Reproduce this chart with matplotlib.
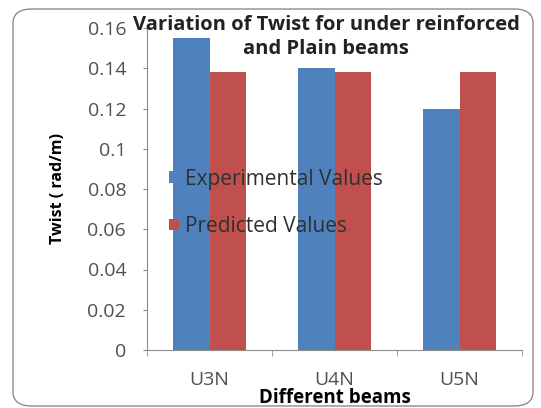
import matplotlib.pyplot as plt
import numpy as np
from matplotlib.patches import FancyBboxPatch

plt.rcParams['font.family'] = ['Open Sans', 'DejaVu Sans']

beams = ['U3N', 'U4N', 'U5N']
experimental = [0.155, 0.14, 0.12]
predicted = [0.138, 0.138, 0.138]
yticks = [0, 0.02, 0.04, 0.06, 0.08, 0.1, 0.12, 0.14, 0.16]
ytick_labels = ['0', '0.02', '0.04', '0.06', '0.08', '0.1', '0.12', '0.14', '0.16']

W, H = 541, 408
fig = plt.figure(figsize=(W / 100, H / 100), dpi=100)

# rounded chart-area border
frame = FancyBboxPatch((13 / W, 2 / H), 520 / W, 397 / H,
                       boxstyle='round,pad=0,rounding_size=0.035',
                       transform=fig.transFigure, fill=False,
                       edgecolor='#8c8c8c', linewidth=1.0)
fig.patches.append(frame)

ax = fig.add_axes([147 / W, (H - 350) / H, (522 - 147) / W, (350 - 28) / H])

x = np.arange(len(beams))
bw = 0.29
ax.bar(x - bw / 2, experimental, bw, color='#4f81bd', label='Experimental Values')
ax.bar(x + bw / 2, predicted, bw, color='#c0504d', label='Predicted Values')

ax.set_xlim(-0.5, 2.5)
ax.set_ylim(0, 0.16)
ax.set_yticks(yticks)
ax.set_yticklabels(ytick_labels, fontsize=14, color='#505050')
ax.set_xticks(x)
ax.set_xticklabels(beams, fontsize=14, color='#505050')
ax.tick_params(axis='x', length=0, pad=15)
ax.set_xticks([-0.5, 0.5, 1.5, 2.5], minor=True)
ax.tick_params(axis='x', which='minor', length=4, color='#8c8c8c', direction='out')
ax.tick_params(axis='y', length=3, color='#8c8c8c', direction='out', pad=12)

for side in ['top', 'right']:
    ax.spines[side].set_visible(False)
for side in ['left', 'bottom']:
    ax.spines[side].set_color('#8c8c8c')

ax.set_ylabel('Twist ( rad/m)', fontsize=11.5, fontweight='bold', color='black')
ax.yaxis.set_label_coords(-0.237, 0.5)
ax.yaxis.label.set_va('center')
ax.set_xlabel('Different beams', fontsize=13.5, fontweight='bold', color='black')
ax.xaxis.set_label_coords(0.5, -48 / 322)
ax.xaxis.label.set_va('center')

fig.text(326 / W, 1 - 37 / H, 'Variation of Twist for under reinforced\nand Plain beams',
         ha='center', va='center', fontsize=14.5, fontweight='bold', color='#222222',
         linespacing=1.2)

leg = ax.legend(loc='upper left', bbox_to_anchor=(0.03, 0.595), frameon=False,
                fontsize=15, handlelength=0.5, handleheight=0.5, handletextpad=0.3,
                labelspacing=1.25, borderpad=0)
for t in leg.get_texts():
    t.set_color('#303030')

fig.savefig('out.png', dpi=100)
